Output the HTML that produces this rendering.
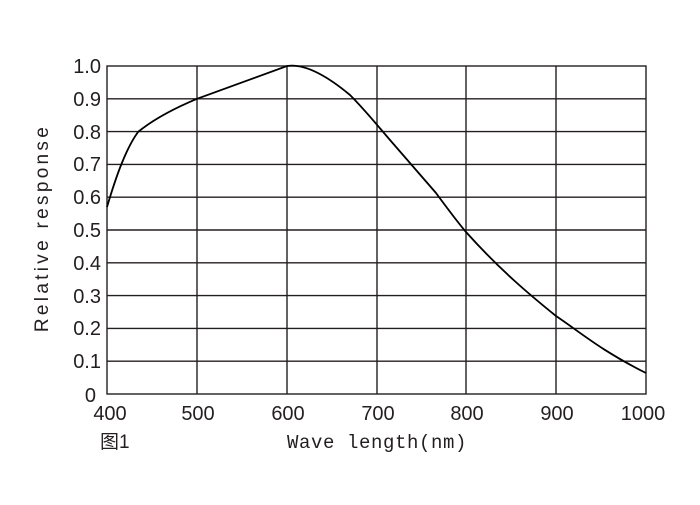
<!DOCTYPE html><html><head><style>body{margin:0;background:#fff}</style></head><body>
<svg width="700" height="500" xmlns="http://www.w3.org/2000/svg" font-family="Liberation Sans, sans-serif">
<rect width="700" height="500" fill="#fff"/>
<g stroke="#231f20" stroke-width="1.4" fill="none">
<rect x="107" y="66" width="539" height="328"/>
<path d="M197 66V394M287 66V394M377 66V394M466 66V394M556 66V394"/>
<path d="M107 98.8H646M107 131.6H646M107 164.4H646M107 197.2H646M107 230H646M107 262.8H646M107 295.6H646M107 328.4H646M107 361.2H646"/>
</g>
<path fill="none" stroke="#000" stroke-width="1.8" d="M107 207 C115 180,125 150,138 132 C155 118,175 108,197 98.8 L287 66 C300 64,320 70,350 95 C365 110,377 125,390 140 L436 193 C450 212,460 225,466 232 C500 270,530 295,556 316 C580 332,600 350,646 373"/>
<g font-size="20" fill="#231f20" text-anchor="end">
<text x="101" y="73">1.0</text><text x="101" y="106">0.9</text><text x="101" y="139">0.8</text><text x="101" y="171">0.7</text><text x="101" y="204">0.6</text><text x="101" y="237">0.5</text><text x="101" y="270">0.4</text><text x="101" y="303">0.3</text><text x="101" y="335">0.2</text><text x="101" y="368">0.1</text><text x="96" y="402">0</text>
</g>
<g font-size="20" fill="#231f20" text-anchor="middle">
<text x="110" y="420">400</text><text x="198" y="420">500</text><text x="288" y="420">600</text><text x="378" y="420">700</text><text x="467" y="420">800</text><text x="557" y="420">900</text><text x="643" y="420">1000</text>
</g>
<text x="377" y="448" font-size="19" font-family="Liberation Mono, monospace" text-anchor="middle" letter-spacing="0.6" fill="#231f20">Wave length(nm)</text>
<text x="100" y="448" font-size="19" font-family="Liberation Sans, Noto Sans CJK SC, sans-serif" fill="#231f20">图1</text>
<text transform="translate(48 228) rotate(-90)" font-size="19" text-anchor="middle" letter-spacing="3.3" fill="#231f20">Relative response</text>
</svg></body></html>
